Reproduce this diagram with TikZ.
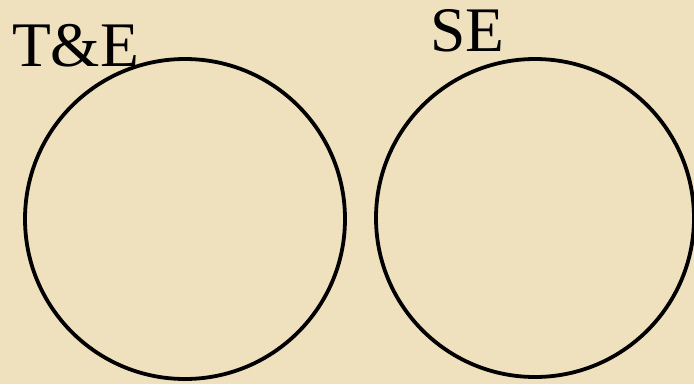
\documentclass[tikz,border=0pt]{standalone}
\usepackage{fontspec}
\setmainfont{Liberation Serif}
\definecolor{parch}{RGB}{240,225,190}
\begin{document}
\begin{tikzpicture}[x=1pt,y=-1pt,
  ring/.style={draw=black,line width=3.8pt},
  lbl/.style={font=\fontsize{63.5}{63.5}\selectfont,anchor=base west,inner sep=0pt}]
\fill[parch] (0,0) rectangle (694,384);
\useasboundingbox (0,0) rectangle (694,384);
\node[ring,circle,minimum size=320pt,inner sep=0pt] (te) at (185,219) {};
\node[ring,circle,minimum size=318pt,inner sep=0pt] (se) at (535,218) {};
\node[lbl] (tel) at (12,66) {T\&E};
\node[lbl] (sel) at (430,51) {SE};
\end{tikzpicture}
\end{document}
